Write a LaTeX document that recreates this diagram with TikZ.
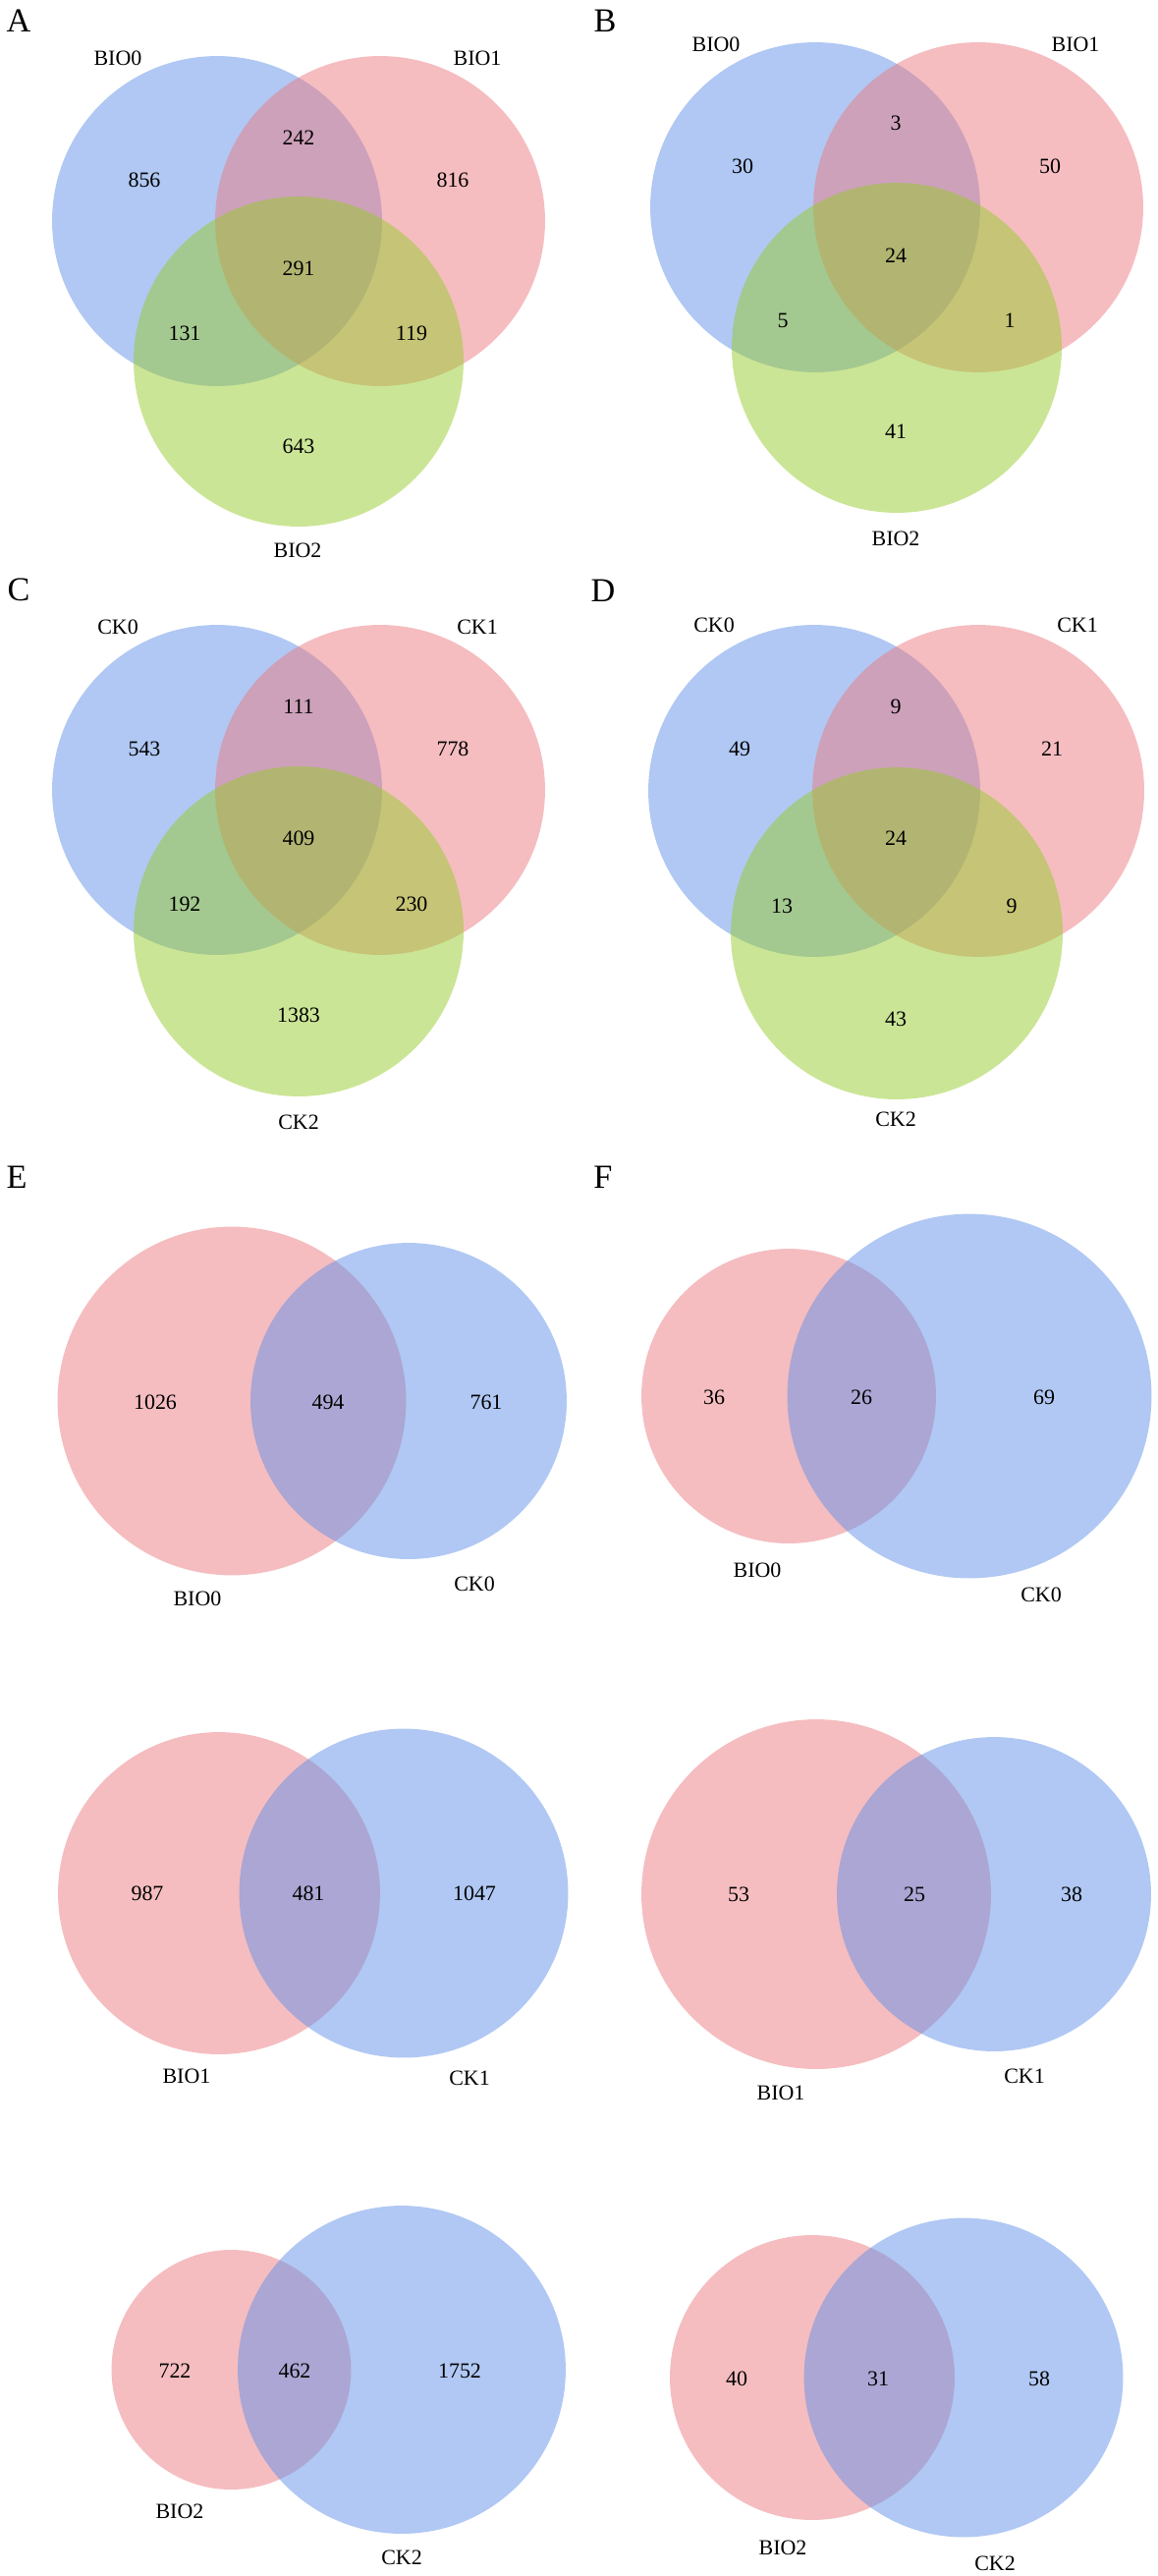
\documentclass[tikz,border=0pt]{standalone}
\usepackage{fontspec}
\setmainfont{Liberation Serif}
\usepackage{tikz}
\definecolor{vennblue}{RGB}{97,145,231}
\definecolor{vennpink}{RGB}{235,123,129}
\definecolor{venngreen}{RGB}{151,203,45}

\begin{document}
\begin{tikzpicture}[x=0.02cm,y=-0.02cm,
        venn/.style={circle,draw=none,inner sep=0pt,minimum size=#1*0.04cm,fill opacity=0.5},
        blueset/.style={venn=#1,fill=vennblue},
        pinkset/.style={venn=#1,fill=vennpink},
        greenset/.style={venn=#1,fill=venngreen},
        count/.style={inner sep=0pt,font=\fontsize{12.5}{15}\selectfont},
        setname/.style={inner sep=0pt,font=\fontsize{12.5}{15}\selectfont},
        panel/.style={inner sep=0pt,font=\fontsize{19.5}{23}\selectfont}]
    \useasboundingbox (0,0) rectangle (1179,2622);

    % A
    \node[panel] (A) at (19,21) {A};
    \node[blueset=168]  (A_b0) at (221,225) {};
    \node[pinkset=168]  (A_b1) at (387,225) {};
    \node[greenset=168] (A_b2) at (304,368) {};
    \node[setname] (A_l0) at (120,59)  {BIO0};
    \node[setname] (A_l1) at (486,59)  {BIO1};
    \node[setname] (A_l2) at (303,560) {BIO2};
    \node[count] (A_n0) at (147,183) {856};
    \node[count] (A_n01) at (304,140) {242};
    \node[count] (A_n1) at (461,183) {816};
    \node[count] (A_n012) at (304,273) {291};
    \node[count] (A_n02) at (188,339) {131};
    \node[count] (A_n12) at (419,339) {119};
    \node[count] (A_n2) at (304,454) {643};

    % B
    \node[panel] (B) at (616,21) {B};
    \node[blueset=168]  (B_b0) at (830,211) {};
    \node[pinkset=168]  (B_b1) at (996,211) {};
    \node[greenset=168] (B_b2) at (913,354) {};
    \node[setname] (B_l0) at (729,45)  {BIO0};
    \node[setname] (B_l1) at (1095,45) {BIO1};
    \node[setname] (B_l2) at (912,548) {BIO2};
    \node[count] (B_n0) at (756,169) {30};
    \node[count] (B_n01) at (912,125) {3};
    \node[count] (B_n1) at (1069,169) {50};
    \node[count] (B_n012) at (912,260) {24};
    \node[count] (B_n02) at (797,326) {5};
    \node[count] (B_n12) at (1028,326) {1};
    \node[count] (B_n2) at (912,439) {41};

    % C
    \node[panel] (C) at (19,600) {C};
    \node[blueset=168]  (C_c0) at (221,804) {};
    \node[pinkset=168]  (C_c1) at (387,804) {};
    \node[greenset=168] (C_c2) at (304,948) {};
    \node[setname] (C_l0) at (120,638)  {CK0};
    \node[setname] (C_l1) at (486,638)  {CK1};
    \node[setname] (C_l2) at (304,1142) {CK2};
    \node[count] (C_n0) at (147,762) {543};
    \node[count] (C_n01) at (304,719) {111};
    \node[count] (C_n1) at (461,762) {778};
    \node[count] (C_n012) at (304,853) {409};
    \node[count] (C_n02) at (188,920) {192};
    \node[count] (C_n12) at (419,920) {230};
    \node[count] (C_n2) at (304,1033) {1383};

    % D
    \node[panel] (D) at (614,601) {D};
    \node[blueset=169]  (D_c0) at (829,805) {};
    \node[pinkset=169]  (D_c1) at (996,805) {};
    \node[greenset=169] (D_c2) at (913,950) {};
    \node[setname] (D_l0) at (727,636)  {CK0};
    \node[setname] (D_l1) at (1097,636) {CK1};
    \node[setname] (D_l2) at (912,1139) {CK2};
    \node[count] (D_n0) at (753,762) {49};
    \node[count] (D_n01) at (912,719) {9};
    \node[count] (D_n1) at (1071,762) {21};
    \node[count] (D_n012) at (912,853) {24};
    \node[count] (D_n02) at (796,922) {13};
    \node[count] (D_n12) at (1030,922) {9};
    \node[count] (D_n2) at (912,1037) {43};

    % E
    \node[panel] (E) at (17,1198) {E};
    \node[pinkset=177.5] (E_b0) at (236,1426) {};
    \node[blueset=161]   (E_c0) at (416,1426) {};
    \node[setname] (E_l0) at (201,1627) {BIO0};
    \node[setname] (E_k0) at (483,1612) {CK0};
    \node[count] at (158,1427) (E_n0) {1026};
    \node[count] at (334,1427) (E_n00) {494};
    \node[count] at (495,1427) (E_m0) {761};

    \node[pinkset=164]   (E_b1) at (223,1927) {};
    \node[blueset=167.5] (E_c1) at (411,1927) {};
    \node[setname] (E_l1) at (190,2113) {BIO1};
    \node[setname] (E_k1) at (478,2115) {CK1};
    \node[count] at (150,1927) (E_n1) {987};
    \node[count] at (314,1927) (E_n11) {481};
    \node[count] at (483,1927) (E_m1) {1047};

    \node[pinkset=122] (E_b2) at (235.5,2412) {};
    \node[blueset=167] (E_c2) at (409,2412) {};
    \node[setname] (E_l2) at (183,2556) {BIO2};
    \node[setname] (E_k2) at (409,2603) {CK2};
    \node[count] at (178,2413) (E_n2) {722};
    \node[count] at (300,2413) (E_n22) {462};
    \node[count] at (468,2413) (E_m2) {1752};

    % F
    \node[panel] (F) at (614,1198) {F};
    \node[pinkset=150]   (F_b0) at (803,1421) {};
    \node[blueset=185.5] (F_c0) at (987,1421) {};
    \node[setname] (F_l0) at (771,1598)  {BIO0};
    \node[setname] (F_k0) at (1060,1623) {CK0};
    \node[count] at (727,1422) (F_n0) {36};
    \node[count] at (877,1422) (F_n00) {26};
    \node[count] at (1063,1422) (F_m0) {69};

    \node[pinkset=178] (F_b1) at (831,1928) {};
    \node[blueset=160] (F_c1) at (1012,1928) {};
    \node[setname] (F_l1) at (795,2130)  {BIO1};
    \node[setname] (F_k1) at (1043,2113) {CK1};
    \node[count] at (752,1928) (F_n1) {53};
    \node[count] at (931,1928) (F_n11) {25};
    \node[count] at (1091,1928) (F_m1) {38};

    \node[pinkset=145]   (F_b2) at (827,2420) {};
    \node[blueset=162.5] (F_c2) at (981,2420) {};
    \node[setname] (F_l2) at (797,2593)  {BIO2};
    \node[setname] (F_k2) at (1013,2609) {CK2};
    \node[count] at (750,2421) (F_n2) {40};
    \node[count] at (894,2421) (F_n22) {31};
    \node[count] at (1058,2421) (F_m2) {58};
\end{tikzpicture}
\end{document}
